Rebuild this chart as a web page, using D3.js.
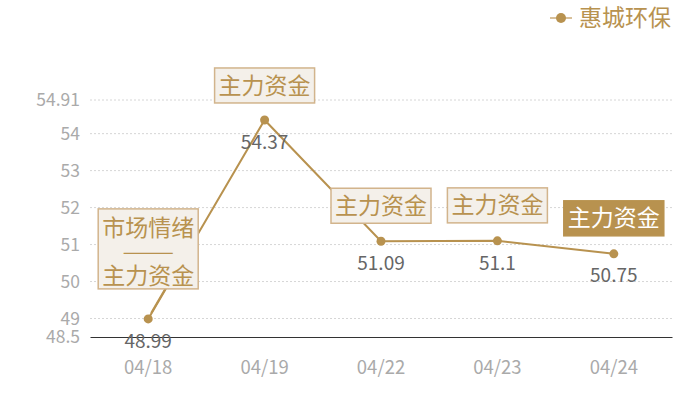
<!DOCTYPE html>
<html>
<head>
<meta charset="utf-8">
<script src="https://cdn.jsdelivr.net/npm/d3@7"></script>
<style>
  body { margin: 0; background: #fff; }
  text { font-family: "Noto Sans CJK SC", "Noto Sans", sans-serif; }
</style>
</head>
<body>
<div id="chart"></div>
<script>
// data
var dates = ["04/18", "04/19", "04/22", "04/23", "04/24"];
var prices = [48.99, 54.37, 51.09, 51.1, 50.75];
var yTicks = [48.5, 49, 50, 51, 52, 53, 54, 54.91];
var seriesName = "惠城环保";
// annotation text per point (lines)
var notes = [["市场情绪", "——", "主力资金"], ["主力资金"], ["主力资金"], ["主力资金"], ["主力资金"]];

var svgWidth = 700;
var svgHeight = 400;
var margin = { top: 100, right: 28, bottom: 63, left: 90 };
var chartWidth = svgWidth - margin.left - margin.right;
var chartHeight = svgHeight - margin.top - margin.bottom;

var gold = "#b8924f";

var svg = d3.select("#chart")
  .append("svg")
  .attr("width", svgWidth)
  .attr("height", svgHeight);

var chartGroup = svg.append("g")
  .attr("transform", `translate(${margin.left}, ${margin.top})`);

var xScale = d3.scaleBand()
  .domain(dates)
  .range([0, chartWidth]);

var yScale = d3.scaleLinear()
  .domain([48.5, 54.91])
  .range([chartHeight, 0]);

// gridlines
chartGroup.append("g")
  .selectAll("line")
  .data(yTicks.filter(d => d > 48.5))
  .enter()
  .append("line")
  .attr("x1", 0)
  .attr("x2", chartWidth)
  .attr("y1", d => yScale(d))
  .attr("y2", d => yScale(d))
  .attr("stroke", "#d6d6d6")
  .attr("stroke-dasharray", "2,2");

// y axis
var leftAxis = d3.axisLeft(yScale).tickValues(yTicks).tickSize(0).tickPadding(10).tickFormat(d => d);
var yAxisG = chartGroup.append("g").call(leftAxis);
yAxisG.select(".domain").remove();
yAxisG.selectAll("text")
  .attr("fill", "#aaaaaa")
  .style("font-size", "17.5px");

// x axis
var bottomAxis = d3.axisBottom(xScale).tickSize(0).tickPadding(24);
var xAxisG = chartGroup.append("g")
  .attr("transform", `translate(0, ${chartHeight})`)
  .call(bottomAxis);
xAxisG.select(".domain").attr("stroke", "#333").attr("stroke-width", 1);
xAxisG.selectAll("text")
  .attr("fill", "#aaaaaa")
  .style("font-size", "18.5px");

var cx = d => xScale(d) + xScale.bandwidth() / 2;

// line
var line = d3.line()
  .x((d, i) => cx(dates[i]))
  .y(d => yScale(d));

chartGroup.append("path")
  .datum(prices)
  .attr("d", line)
  .attr("fill", "none")
  .attr("stroke", gold)
  .attr("stroke-width", 2);

chartGroup.selectAll("circle.pt")
  .data(prices)
  .enter()
  .append("circle")
  .attr("class", "pt")
  .attr("cx", (d, i) => cx(dates[i]))
  .attr("cy", d => yScale(d))
  .attr("r", 4.5)
  .attr("fill", gold);

// value labels
chartGroup.selectAll("text.val")
  .data(prices)
  .enter()
  .append("text")
  .attr("class", "val")
  .attr("x", (d, i) => cx(dates[i]))
  .attr("y", d => yScale(d) + 22)
  .attr("dy", "0.35em")
  .attr("text-anchor", "middle")
  .attr("fill", "#666")
  .style("font-size", "19px")
  .text(d => d);

// annotation boxes (box top relative to the point, in pixels)
var boxTop = [-110, -52, -53, -53, -53];
var boxW = 100;

prices.forEach(function(p, i) {
  var px = cx(dates[i]), py = yScale(p);
  var lines = notes[i];
  var h = lines.length === 1 ? 35 : 80;
  var top = py + boxTop[i];
  var last = i === prices.length - 1;
  var g = chartGroup.append("g");
  if (lines.length > 1) {
    // leader from point to box
    g.append("line")
      .attr("x1", px + 3).attr("y1", py - 6)
      .attr("x2", px + 17).attr("y2", top + h)
      .attr("stroke", gold).attr("stroke-width", 2);
  }
  g.append("rect")
    .attr("x", px - boxW / 2)
    .attr("y", top)
    .attr("width", boxW)
    .attr("height", h)
    .attr("fill", last ? gold : "#f4f0ea")
    .attr("stroke", last ? gold : "#d2b48c")
    .attr("stroke-width", 1.5);
  var startY = lines.length === 1 ? top + h / 2 : top + 19;
  var step = lines.length === 1 ? 0 : 24;
  lines.forEach(function(t, j) {
    var txt = g.append("text")
      .attr("x", px)
      .attr("y", startY + j * step)
      .attr("dy", "0.35em")
      .attr("text-anchor", "middle")
      .attr("fill", last ? "#fff" : gold)
      .style("font-size", "23px")
      .text(t);
    if (t === "——") {
      txt.style("font-size", "20px")
        .attr("textLength", 52).attr("lengthAdjust", "spacingAndGlyphs")
        .attr("x", px - 26).attr("text-anchor", "start");
    }
  });
});

// legend
var legend = svg.append("g").attr("transform", "translate(550, 18)");
legend.append("line")
  .attr("x1", 0).attr("x2", 22)
  .attr("stroke", "#d8c09a").attr("stroke-width", 2);
legend.append("circle")
  .attr("cx", 11).attr("r", 5).attr("fill", gold);
legend.append("text")
  .attr("x", 29)
  .attr("dy", "0.35em")
  .attr("fill", gold)
  .style("font-size", "23px")
  .text(seriesName);
</script>
</body>
</html>
